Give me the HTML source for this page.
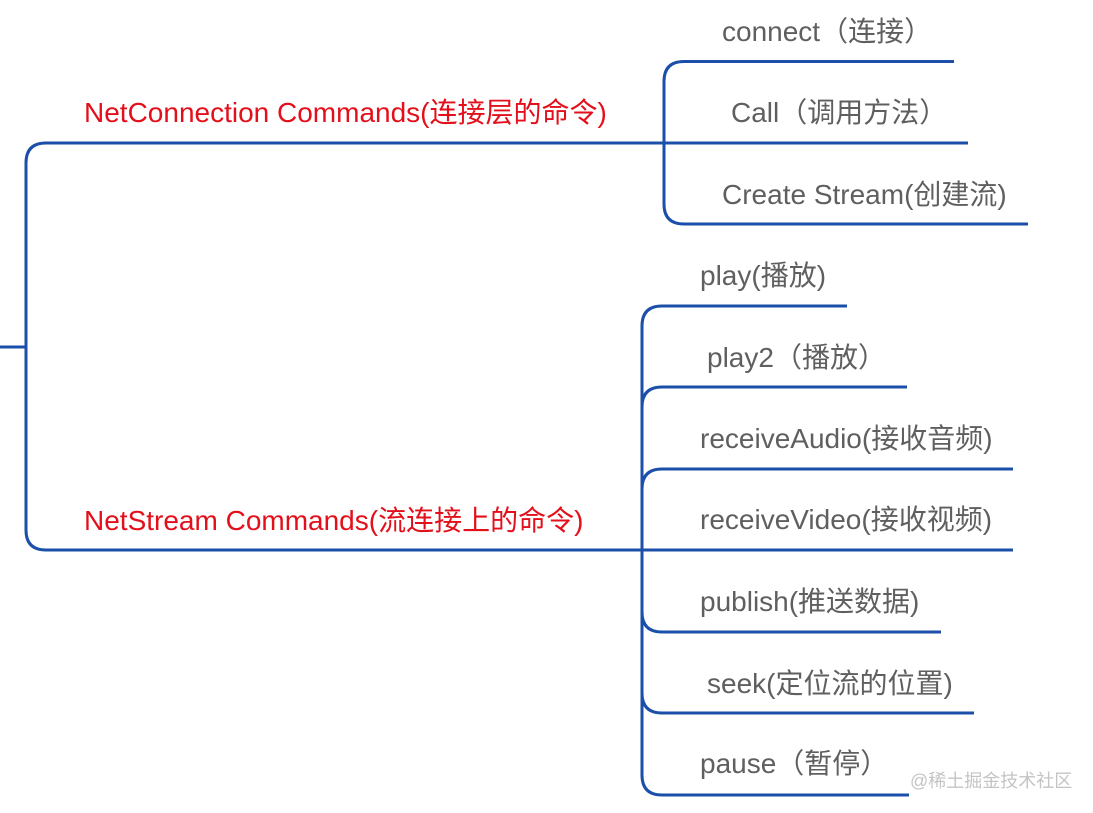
<!DOCTYPE html>
<html>
<head>
<meta charset="utf-8">
<style>
  html, body { margin: 0; padding: 0; background: #ffffff; }
  body { width: 1093px; height: 813px; overflow: hidden; }
  svg { display: block; }
  text { font-family: "Liberation Sans", "Noto Sans CJK SC", sans-serif; font-size: 28px; }
  .g { fill: #5f5f5f; }
  .r { fill: #e3101b; }
  .w { fill: #c4c4c4; font-size: 18px; }
</style>
</head>
<body>
<svg width="1093" height="813" viewBox="0 0 1093 813" xmlns="http://www.w3.org/2000/svg">
  <g fill="none" stroke="#1b4fa9" stroke-width="3">
    <!-- root stub -->
    <path d="M0 347 H26"/>
    <!-- main bracket -->
    <path d="M968 143 H46 Q26 143 26 163 V530 Q26 550 46 550 H1013"/>
    <!-- first child bracket -->
    <path d="M954 61.5 H684 Q664 61.5 664 81.5 V204 Q664 224 684 224 H1028"/>
    <!-- second child bracket -->
    <path d="M847 306 H662 Q642 306 642 326 V775 Q642 795 662 795 H909"/>
    <path d="M642 407 Q642 387 662 387 H907"/>
    <path d="M642 489 Q642 469 662 469 H1013"/>
    <path d="M642 612 Q642 632 662 632 H941"/>
    <path d="M642 693 Q642 713 662 713 H974"/>
  </g>

  <text class="r" x="84" y="122">NetConnection Commands(连接层的命令)</text>
  <text class="r" x="84" y="530">NetStream Commands(流连接上的命令)</text>

  <text class="g" x="722" y="41">connect（连接）</text>
  <text class="g" x="731" y="122">Call（调用方法）</text>
  <text class="g" x="722" y="204">Create Stream(创建流)</text>

  <text class="g" x="700" y="285">play(播放)</text>
  <text class="g" x="707" y="367">play2（播放）</text>
  <text class="g" x="700" y="448">receiveAudio(接收音频)</text>
  <text class="g" x="700" y="529">receiveVideo(接收视频)</text>
  <text class="g" x="700" y="611">publish(推送数据)</text>
  <text class="g" x="707" y="693">seek(定位流的位置)</text>
  <text class="g" x="700" y="773">pause（暂停）</text>

  <text class="w" x="910" y="787">@稀土掘金技术社区</text>
</svg>
</body>
</html>
